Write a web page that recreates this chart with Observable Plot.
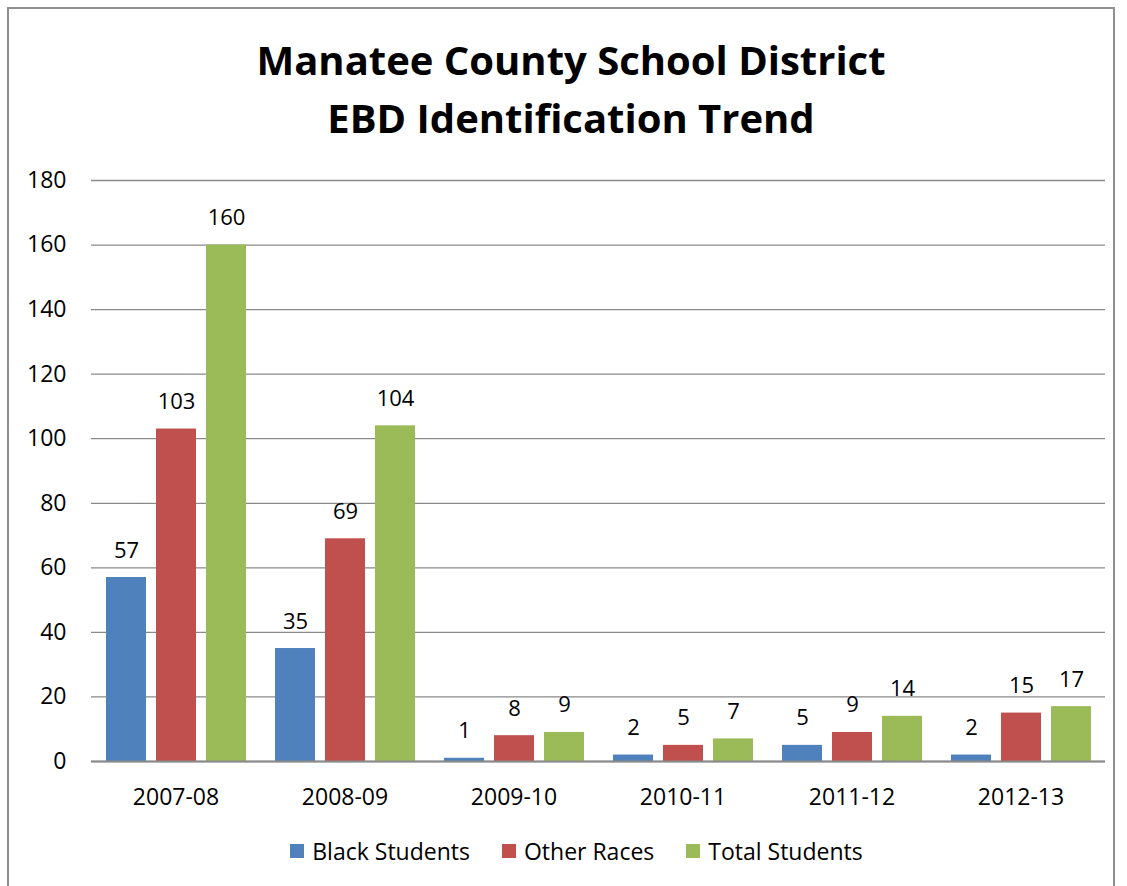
<!DOCTYPE html>
<html>
<head>
<meta charset="utf-8">
<script src="https://cdn.jsdelivr.net/npm/d3@7"></script>
<script src="https://cdn.jsdelivr.net/npm/@observablehq/plot@0.6"></script>
<style>
  html, body { margin: 0; padding: 0; background: #fff; width: 1127px; height: 886px; overflow: hidden; }
  body { position: relative; font-family: "Open Sans", sans-serif; }
  #frame { position: absolute; left: 7px; top: 7px; width: 1108px; height: 900px; border: 2px solid #8f8f8f; box-sizing: border-box; }
  #title { position: absolute; left: 0; top: 31px; width: 1142px; text-align: center; font-weight: bold; font-size: 40px; line-height: 58px; color: #000; }
  #chart { position: absolute; left: 0; top: 150px; }
  #legend { position: absolute; left: 0; top: 835px; width: 1153px; display: flex; justify-content: center; gap: 32px; font-size: 23px; line-height: 32px; color: #000; }
  #legend .item { display: flex; align-items: center; gap: 8px; }
  #legend .sw { width: 14px; height: 14px; display: inline-block; }
</style>
</head>
<body>
<div id="frame"></div>
<div id="title">Manatee County School District<br>EBD Identification Trend</div>
<div id="chart"></div>
<div id="legend"></div>
<script>
const years = ["2007-08", "2008-09", "2009-10", "2010-11", "2011-12", "2012-13"];
const series = ["Black Students", "Other Races", "Total Students"];
const blackStudents = [57, 35, 1, 2, 5, 2];
const otherRaces = [103, 69, 8, 5, 9, 15];
const totalStudents = [160, 104, 9, 7, 14, 17];
const colors = ["#4F81BD", "#C0504D", "#9BBB59"];
const yTicks = [0, 20, 40, 60, 80, 100, 120, 140, 160, 180];

const values = [blackStudents, otherRaces, totalStudents];
const data = [];
years.forEach((yr, i) => {
  series.forEach((s, j) => data.push({ year: yr, series: s, value: values[j][i] }));
});

const chart = Plot.plot({
  width: 1127,
  height: 666,
  marginLeft: 90,
  marginRight: 22,
  marginTop: 30,
  marginBottom: 55,
  style: { fontFamily: "Open Sans, sans-serif", fontSize: "23px", color: "#000", background: "transparent" },
  fx: { domain: years, padding: 0, label: null },
  x: { domain: series, paddingInner: 0.2, paddingOuter: 0.29, axis: null },
  y: { domain: [0, 180], label: null },
  color: { domain: series, range: colors },
  marks: [
    Plot.gridY(yTicks, { stroke: "#8a8a8a", strokeOpacity: 1, strokeWidth: 1.3 }),
    Plot.barY(data, { fx: "year", x: "series", y: "value", fill: "series" }),
    Plot.ruleY([0], { stroke: "#8a8a8a", strokeWidth: 2 }),
    Plot.text(data, { fx: "year", x: "series", y: "value", text: d => String(d.value), dy: -27, fontSize: 22, fill: "#000" }),
    Plot.axisY(yTicks, { tickSize: 0, tickPadding: 25, label: null, fontSize: 23 }),
    Plot.axisFx({ anchor: "bottom", tickSize: 0, tickPadding: 27, label: null, fontSize: 23 })
  ]
});
document.getElementById("chart").appendChild(chart);

const legend = document.getElementById("legend");
series.forEach((s, j) => {
  const item = document.createElement("div");
  item.className = "item";
  const sw = document.createElement("span");
  sw.className = "sw";
  sw.style.background = colors[j];
  const label = document.createElement("span");
  label.textContent = s;
  item.appendChild(sw);
  item.appendChild(label);
  legend.appendChild(item);
});
</script>
</body>
</html>
